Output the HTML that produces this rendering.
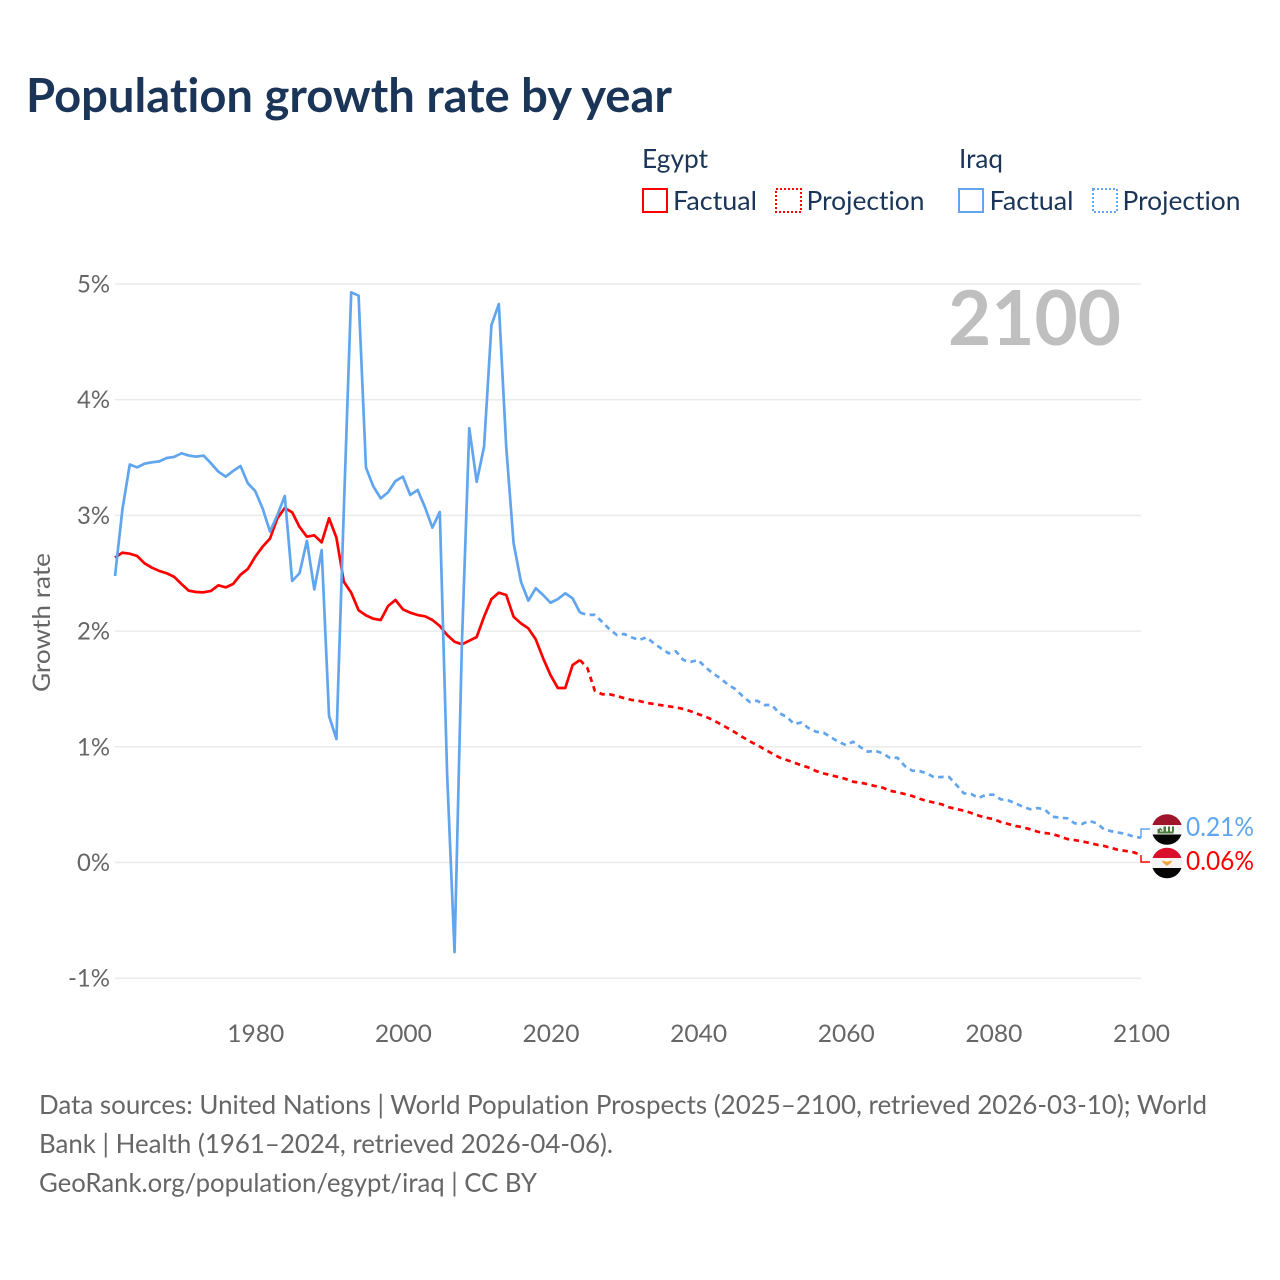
<!DOCTYPE html>
<html lang="en">
<head>
<meta charset="utf-8">
<title>Population growth rate by year</title>
<style>
html,body{margin:0;padding:0;background:#fff;width:1280px;height:1280px;overflow:hidden}
svg{display:block}
text{font-family:"Lato","Carlito","Liberation Sans",sans-serif;font-variant-ligatures:none;font-feature-settings:"liga" 0}
</style>
</head>
<body>
<svg id="chart" xmlns="http://www.w3.org/2000/svg" width="1280" height="1280" viewBox="0 0 1280 1280">
  <defs>
    <clipPath id="clip-iraq"><circle cx="1167" cy="829.5" r="15.3"/></clipPath>
    <clipPath id="clip-egypt"><circle cx="1167" cy="863" r="15.3"/></clipPath>
  </defs>
  <text x="26" y="112" font-size="46.5" font-weight="700" fill="#1a3557" textLength="646" lengthAdjust="spacingAndGlyphs">Population growth rate by year</text>

  <g fill="#1a3557" font-size="26">
    <text x="642" y="168" textLength="66" lengthAdjust="spacingAndGlyphs">Egypt</text>
    <text x="959" y="168" textLength="44" lengthAdjust="spacingAndGlyphs">Iraq</text>
    <rect x="643" y="189" width="24" height="23" fill="none" stroke="#ff0000" stroke-width="2"/>
    <text x="673" y="210" textLength="84" lengthAdjust="spacingAndGlyphs">Factual</text>
    <rect x="776" y="189" width="25" height="23" fill="none" stroke="#ff0000" stroke-width="2" stroke-dasharray="2 2"/>
    <text x="806.5" y="210" textLength="118" lengthAdjust="spacingAndGlyphs">Projection</text>
    <rect x="959" y="189" width="24" height="23" fill="none" stroke="#60a5ee" stroke-width="2"/>
    <text x="989.5" y="210" textLength="84" lengthAdjust="spacingAndGlyphs">Factual</text>
    <rect x="1093" y="189" width="24" height="23" fill="none" stroke="#60a5ee" stroke-width="2" stroke-dasharray="2 2"/>
    <text x="1122.5" y="210" textLength="118" lengthAdjust="spacingAndGlyphs">Projection</text>
  </g>

  <g id="grid"></g>
  <g id="yticks"></g>
  <g id="xticks"></g>

  <text transform="translate(50,622.5) rotate(-90)" text-anchor="middle" font-size="24" fill="#666666" textLength="139" lengthAdjust="spacingAndGlyphs">Growth rate</text>

  <text x="948" y="345" font-size="76" font-weight="700" fill="#bfbfbf" textLength="173" lengthAdjust="spacingAndGlyphs">2100</text>

  <g id="series"></g>
  <g id="end"></g>

  <g clip-path="url(#clip-iraq)">
    <rect x="1150" y="814" width="34" height="11" fill="#a0152c"/>
    <rect x="1150" y="825" width="34" height="9.5" fill="#f4f4f4"/>
    <rect x="1150" y="834.5" width="34" height="11.5" fill="#050505"/>
    <path d="M1157.5 831.5h16v2h-16zM1157.5 829h2.5v3h-2.5zM1163.5 826.5h2.5v5h-2.5zM1168 826.5h2v5h-2zM1172 826.5h2v5h-2zM1160 827.5l2.5 2.5-1 1-2.5-2z" fill="#4a7a3c"/>
  </g>
  <g clip-path="url(#clip-egypt)">
    <rect x="1150" y="847" width="34" height="11" fill="#d90f2c"/>
    <rect x="1150" y="858" width="34" height="10" fill="#f4f4f4"/>
    <rect x="1150" y="868" width="34" height="11" fill="#050505"/>
    <path d="M1161.5 860.5l5.5 1.2 5.5-1.2-2.5 3.2-3 2.2-3-2.2z" fill="#f0a23a"/>
  </g>

  <g fill="#666666" font-size="26">
    <text x="39" y="1114" textLength="1168" lengthAdjust="spacingAndGlyphs">Data sources: United Nations | World Population Prospects (2025–2100, retrieved 2026-03-10); World</text>
    <text x="39" y="1153" textLength="574" lengthAdjust="spacingAndGlyphs">Bank | Health (1961–2024, retrieved 2026-04-06).</text>
    <text x="39" y="1192" textLength="498" lengthAdjust="spacingAndGlyphs">GeoRank.org/population/egypt/iraq | CC BY</text>
  </g>
</svg>
<script>
const firstYear = 1961;
const lastFactualYear = 2024;
const yTicks = [-1, 0, 1, 2, 3, 4, 5];
const xTicks = [1980, 2000, 2020, 2040, 2060, 2080, 2100];
const egyptFactual = [2.635,2.678,2.669,2.649,2.586,2.548,2.52,2.5,2.47,2.407,2.349,2.338,2.335,2.347,2.396,2.378,2.407,2.487,2.537,2.643,2.73,2.8,2.975,3.064,3.027,2.9,2.816,2.828,2.767,2.975,2.807,2.427,2.332,2.18,2.136,2.107,2.096,2.217,2.269,2.188,2.159,2.139,2.128,2.096,2.044,1.966,1.908,1.886,1.917,1.949,2.124,2.277,2.332,2.312,2.124,2.067,2.024,1.929,1.765,1.62,1.508,1.508,1.707,1.75];
const egyptProjection = [1.68,1.485,1.454,1.454,1.44,1.42,1.405,1.396,1.38,1.37,1.36,1.35,1.34,1.327,1.307,1.283,1.26,1.232,1.197,1.162,1.125,1.085,1.047,1.015,0.978,0.943,0.908,0.886,0.863,0.84,0.82,0.79,0.77,0.754,0.739,0.722,0.698,0.69,0.676,0.661,0.647,0.62,0.607,0.592,0.575,0.551,0.532,0.517,0.503,0.477,0.462,0.448,0.428,0.405,0.387,0.376,0.35,0.333,0.316,0.304,0.287,0.266,0.255,0.246,0.226,0.203,0.194,0.183,0.169,0.154,0.143,0.125,0.108,0.099,0.088,0.064];
const iraqFactual = [2.476,3.05,3.44,3.415,3.447,3.459,3.467,3.496,3.505,3.537,3.517,3.508,3.517,3.45,3.378,3.335,3.384,3.427,3.277,3.21,3.06,2.86,3.003,3.168,2.433,2.5,2.78,2.36,2.7,1.266,1.067,3.05,4.928,4.9,3.413,3.25,3.147,3.2,3.297,3.335,3.176,3.22,3.07,2.894,3.03,0.756,-0.774,1.9,3.753,3.29,3.594,4.645,4.827,3.594,2.76,2.427,2.263,2.37,2.312,2.245,2.277,2.327,2.283,2.16];
const iraqProjection = [2.14,2.14,2.08,2.015,1.966,1.975,1.946,1.923,1.946,1.895,1.85,1.808,1.825,1.75,1.735,1.75,1.687,1.635,1.592,1.54,1.5,1.44,1.387,1.398,1.361,1.361,1.29,1.26,1.197,1.21,1.16,1.13,1.122,1.082,1.044,1.015,1.044,0.996,0.958,0.966,0.943,0.903,0.906,0.834,0.794,0.79,0.77,0.736,0.739,0.739,0.67,0.598,0.592,0.557,0.586,0.586,0.546,0.537,0.511,0.482,0.46,0.471,0.456,0.396,0.387,0.382,0.339,0.333,0.359,0.339,0.287,0.27,0.258,0.246,0.223,0.214];

const NS = 'http://www.w3.org/2000/svg';
const RED = '#ff0000';
const BLUE = '#60a5ee';
const plotLeft = 115, plotRight = 1141, zeroY = 862.5, unitY = 115.7, spanYears = 139;
function xScale(year) { return plotLeft + (year - firstYear) * (plotRight - plotLeft) / spanYears; }
function yScale(v) { return zeroY - v * unitY; }
function make(tag, parentId, attrs) {
  const el = document.createElementNS(NS, tag);
  for (const k in attrs) el.setAttribute(k, attrs[k]);
  document.getElementById(parentId).appendChild(el);
  return el;
}
function pathFrom(startYear, values) {
  return values.map(function (v, i) {
    return (i ? 'L' : 'M') + xScale(startYear + i).toFixed(2) + ' ' + yScale(v).toFixed(2);
  }).join('');
}

yTicks.forEach(function (t) {
  const line = make('line', 'grid', { x1: plotLeft, x2: plotRight, y1: yScale(t), y2: yScale(t), stroke: '#ebebeb', 'stroke-width': 1.5 });
  
  
  const lab = make('text', 'yticks', { x: 110, y: yScale(t) + 8.5, 'text-anchor': 'end', 'font-size': 24, fill: '#666666', textLength: t < 0 ? 42 : 33, lengthAdjust: 'spacingAndGlyphs' });
  lab.textContent = t + '%';
  
  
});
xTicks.forEach(function (t) {
  const lab = make('text', 'xticks', { x: xScale(t) + 0.5, y: 1042, 'text-anchor': 'middle', 'font-size': 24, fill: '#666666', textLength: 57, lengthAdjust: 'spacingAndGlyphs' });
  lab.textContent = String(t);
  
  
});

function drawFactual(values, color, name) {
  const p = make('path', 'series', { d: pathFrom(firstYear, values), fill: 'none', stroke: color, 'stroke-width': 2.7, 'stroke-linejoin': 'round' });
  
  
}
function drawProjection(values, lastFact, color, name) {
  const all = [lastFact].concat(values);
  const p = make('path', 'series', { d: pathFrom(lastFactualYear, all), fill: 'none', stroke: color, 'stroke-width': 2.7, 'stroke-dasharray': '5.5 4.5', 'stroke-linejoin': 'round' });
  
  
}
drawFactual(egyptFactual, RED, 'egypt-factual-line');
drawProjection(egyptProjection, egyptFactual[egyptFactual.length - 1], RED, 'egypt-projection-line');
drawFactual(iraqFactual, BLUE, 'iraq-factual-line');
drawProjection(iraqProjection, iraqFactual[iraqFactual.length - 1], BLUE, 'iraq-projection-line');

const iraqEnd = iraqProjection[iraqProjection.length - 1];
const egyptEnd = egyptProjection[egyptProjection.length - 1];
const iraqConn = make('path', 'end', { d: 'M1141 ' + yScale(iraqEnd) + 'V829H1150', fill: 'none', stroke: BLUE, 'stroke-width': 1.5 });


const egyptConn = make('path', 'end', { d: 'M1141 ' + yScale(egyptEnd) + 'V862H1150', fill: 'none', stroke: RED, 'stroke-width': 1.5 });


const iraqLabel = make('text', 'end', { x: 1186, y: 836, 'font-size': 26, fill: BLUE, textLength: 68, lengthAdjust: 'spacingAndGlyphs' });
iraqLabel.textContent = iraqEnd.toFixed(2) + '%';


const egyptLabel = make('text', 'end', { x: 1186, y: 870, 'font-size': 26, fill: RED, textLength: 68, lengthAdjust: 'spacingAndGlyphs' });
egyptLabel.textContent = egyptEnd.toFixed(2) + '%';


</script>
</body>
</html>
